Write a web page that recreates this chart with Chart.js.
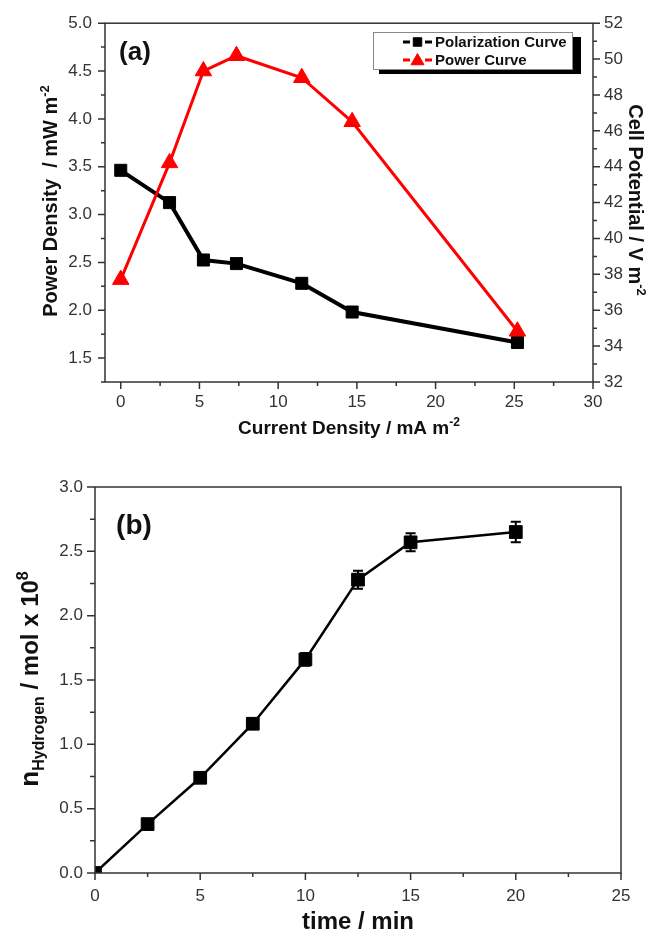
<!DOCTYPE html>
<html>
<head>
<meta charset="utf-8">
<script src="https://cdn.jsdelivr.net/npm/chart.js@4.4.1/dist/chart.umd.min.js"></script>
<style>
    html, body { margin: 0; padding: 0; background: #fff; }
    #wrap { position: relative; width: 654px; height: 932px; }
    canvas { position: absolute; left: 0; }
    #chartA { top: 0; }
    #chartB { top: 445px; }
</style>
</head>
<body>
<div id="wrap">
    <canvas id="chartA" width="654" height="445"></canvas>
    <canvas id="chartB" width="654" height="487"></canvas>
</div>
<script>
// ---- panel (a) data ----
const currentDensity = [0, 3.1, 5.25, 7.35, 11.5, 14.7, 25.2];   // mA m-2
const cellPotential = [43.8, 42.0, 38.8, 38.6, 37.5, 35.9, 34.2]; // V m-2 (right axis)
const powerDensity = [2.32, 3.54, 4.50, 4.66, 4.43, 3.97, 1.78];  // mW m-2 (left axis)
const xTicksA = [0, 5, 10, 15, 20, 25, 30];
const powerTicks = [1.5, 2.0, 2.5, 3.0, 3.5, 4.0, 4.5, 5.0];
const potentialTicks = [32, 34, 36, 38, 40, 42, 44, 46, 48, 50, 52];
const legendLabelsA = ['Polarization Curve', 'Power Curve'];

// ---- panel (b) data ----
const timeMin = [0, 2.5, 5, 7.5, 10, 12.5, 15, 20];
const nHydrogen = [0.0, 0.38, 0.74, 1.16, 1.66, 2.28, 2.57, 2.65];
const nHydrogenErr = [0, 0.02, 0.03, 0.04, 0.05, 0.07, 0.07, 0.08];
const xTicksB = [0, 5, 10, 15, 20, 25];
const yTicksB = [0, 0.5, 1.0, 1.5, 2.0, 2.5, 3.0];

const FONT = '"Liberation Sans", Arial, sans-serif';
const AXIS = '#333';
const tickFont = { family: FONT, size: 17 };

// minor ticks halfway between major ones
function midpoints(vals) {
    const out = [];
    for (let i = 0; i < vals.length - 1; i++) out.push((vals[i] + vals[i + 1]) / 2);
    return out;
}

function tickMarks(ctx, scale, values, len, side, area) {
    ctx.beginPath();
    values.forEach(v => {
        const p = scale.getPixelForValue(v);
        if (side === 'left') { ctx.moveTo(area.left, p); ctx.lineTo(area.left - len, p); }
        else if (side === 'right') { ctx.moveTo(area.right, p); ctx.lineTo(area.right + len, p); }
        else { ctx.moveTo(p, area.bottom); ctx.lineTo(p, area.bottom + len); }
    });
    ctx.stroke();
}

// text with sub/superscripts, (x, y) = centre of the baseline
function richText(ctx, parts, x, y, rot) {
    ctx.save();
    ctx.translate(x, y);
    ctx.rotate(rot);
    let total = 0;
    parts.forEach(p => {
        ctx.font = 'bold ' + p.size + 'px ' + FONT;
        p.w = ctx.measureText(p.t).width;
        total += p.w;
    });
    let cx = -total / 2;
    ctx.textAlign = 'left';
    ctx.textBaseline = 'alphabetic';
    ctx.fillStyle = '#111';
    parts.forEach(p => {
        ctx.font = 'bold ' + p.size + 'px ' + FONT;
        ctx.fillText(p.t, cx, p.dy || 0);
        cx += p.w;
    });
    ctx.restore();
}

function frame(ctx, area) {
    ctx.save();
    ctx.strokeStyle = AXIS;
    ctx.lineWidth = 1.5;
    ctx.strokeRect(area.left, area.top, area.right - area.left, area.bottom - area.top);
    ctx.restore();
}

const panelA = {
    id: 'panelA',
    afterDraw(chart) {
        const ctx = chart.ctx;
        const area = chart.chartArea;
        const s = chart.scales;
        frame(ctx, area);
        ctx.save();
        ctx.strokeStyle = AXIS;
        ctx.lineWidth = 1.5;
        tickMarks(ctx, s.x, xTicksA, 7, 'bottom', area);
        tickMarks(ctx, s.x, midpoints(xTicksA), 4, 'bottom', area);
        tickMarks(ctx, s.yLeft, powerTicks, 7, 'left', area);
        tickMarks(ctx, s.yLeft, [1.25].concat(midpoints(powerTicks)), 4, 'left', area);
        tickMarks(ctx, s.yRight, potentialTicks, 7, 'right', area);
        tickMarks(ctx, s.yRight, midpoints(potentialTicks), 4, 'right', area);
        ctx.restore();

        // axis titles
        richText(ctx, [{ t: 'Power Density  / mW m', size: 20 }, { t: '-2', size: 13, dy: -8 }], 57, 201, -Math.PI / 2);
        richText(ctx, [{ t: 'Cell Potential / V m', size: 20 }, { t: '-2', size: 13, dy: -8 }], 629, 200, Math.PI / 2);
        richText(ctx, [{ t: 'Current Density / mA m', size: 19 }, { t: '-2', size: 12, dy: -8 }], 349, 434, 0);
        richText(ctx, [{ t: '(a)', size: 26 }], 135, 60, 0);

        // legend with shadow box
        const ds = chart.data.datasets;
        ctx.save();
        ctx.fillStyle = '#000';
        ctx.fillRect(379, 37, 202, 37);
        ctx.fillStyle = '#fff';
        ctx.fillRect(373, 32, 200, 38);
        ctx.strokeStyle = '#888';
        ctx.lineWidth = 1;
        ctx.strokeRect(373.5, 32.5, 199, 37);
        [0, 1].forEach(i => {
            const d = ds[i];
            const y = 42 + i * 18;
            ctx.strokeStyle = d.borderColor;
            ctx.lineWidth = 3;
            ctx.beginPath();
            ctx.moveTo(403, y); ctx.lineTo(410, y);
            ctx.moveTo(425, y); ctx.lineTo(432, y);
            ctx.stroke();
            ctx.fillStyle = d.backgroundColor;
            ctx.lineWidth = 1;
            Chart.helpers.drawPoint(ctx, { pointStyle: d.pointStyle, radius: i === 0 ? 6 : 7.5, borderWidth: 1 }, 417.5, y + (i === 1 ? 1 : 0));
            ctx.fillStyle = '#111';
            ctx.font = 'bold 15px ' + FONT;
            ctx.textAlign = 'left';
            ctx.textBaseline = 'middle';
            ctx.fillText(legendLabelsA[i], 435, y + 1);
        });
        ctx.restore();
    }
};

new Chart(document.getElementById('chartA'), {
    type: 'line',
    data: {
        datasets: [{
            label: legendLabelsA[0],
            data: currentDensity.map((x, i) => ({ x, y: cellPotential[i] })),
            yAxisID: 'yRight',
            borderColor: '#000',
            backgroundColor: '#000',
            borderWidth: 4,
            pointStyle: 'rect',
            pointRadius: 8.5,
            pointBorderWidth: 1,
            order: 1
        }, {
            label: legendLabelsA[1],
            data: currentDensity.map((x, i) => ({ x, y: powerDensity[i] })),
            yAxisID: 'yLeft',
            borderColor: '#ff0000',
            backgroundColor: '#ff0000',
            borderWidth: 3,
            pointStyle: 'triangle',
            pointRadius: 9.5,
            pointBorderWidth: 1,
            order: 0
        }]
    },
    options: {
        responsive: false,
        animation: false,
        layout: { padding: { top: 21 } },
        plugins: { legend: { display: false }, tooltip: { enabled: false } },
        scales: {
            x: {
                type: 'linear', min: -1, max: 30,
                afterFit: sc => { sc.height = 63; },
                afterBuildTicks: sc => { sc.ticks = xTicksA.map(v => ({ value: v })); },
                grid: { display: false, drawTicks: false },
                border: { display: false },
                ticks: { font: tickFont, color: AXIS, padding: 10, maxRotation: 0, autoSkip: false }
            },
            yLeft: {
                position: 'left', min: 1.25, max: 5,
                afterFit: sc => { sc.width = 105; },
                afterBuildTicks: sc => { sc.ticks = powerTicks.map(v => ({ value: v })); },
                grid: { display: false, drawTicks: false },
                border: { display: false },
                ticks: { font: tickFont, color: AXIS, padding: 13, autoSkip: false, callback: v => v.toFixed(1) }
            },
            yRight: {
                position: 'right', min: 32, max: 52,
                afterFit: sc => { sc.width = 61; },
                afterBuildTicks: sc => { sc.ticks = potentialTicks.map(v => ({ value: v })); },
                grid: { display: false, drawTicks: false },
                border: { display: false },
                ticks: { font: tickFont, color: AXIS, padding: 11, autoSkip: false }
            }
        }
    },
    plugins: [panelA]
});

const panelB = {
    id: 'panelB',
    afterDatasetsDraw(chart) {
        // error bars
        const ctx = chart.ctx;
        const x = chart.scales.x, y = chart.scales.y;
        ctx.save();
        ctx.strokeStyle = '#000';
        ctx.lineWidth = 2;
        timeMin.forEach((t, i) => {
            const e = nHydrogenErr[i];
            if (!e) return;
            const px = x.getPixelForValue(t);
            const top = y.getPixelForValue(nHydrogen[i] + e);
            const bot = y.getPixelForValue(nHydrogen[i] - e);
            ctx.beginPath();
            ctx.moveTo(px, top); ctx.lineTo(px, bot);
            ctx.moveTo(px - 5, top); ctx.lineTo(px + 5, top);
            ctx.moveTo(px - 5, bot); ctx.lineTo(px + 5, bot);
            ctx.stroke();
        });
        ctx.restore();
    },
    afterDraw(chart) {
        const ctx = chart.ctx;
        const area = chart.chartArea;
        const s = chart.scales;
        frame(ctx, area);
        ctx.save();
        ctx.strokeStyle = AXIS;
        ctx.lineWidth = 1.5;
        tickMarks(ctx, s.x, xTicksB, 7, 'bottom', area);
        tickMarks(ctx, s.x, midpoints(xTicksB), 4, 'bottom', area);
        tickMarks(ctx, s.y, yTicksB, 8, 'left', area);
        tickMarks(ctx, s.y, midpoints(yTicksB), 5, 'left', area);
        ctx.restore();

        // positions are relative to this canvas, which starts at y = 445
        richText(ctx, [
            { t: 'n', size: 26 },
            { t: 'Hydrogen', size: 16, dy: 6 },
            { t: ' / mol x 10', size: 24 },
            { t: '8', size: 16, dy: -10 }
        ], 38, 234, -Math.PI / 2);
        richText(ctx, [{ t: 'time / min', size: 24 }], 358, 484, 0);
        richText(ctx, [{ t: '(b)', size: 28 }], 134, 89, 0);
    }
};

new Chart(document.getElementById('chartB'), {
    type: 'line',
    data: {
        datasets: [{
            label: 'nHydrogen',
            data: timeMin.map((x, i) => ({ x, y: nHydrogen[i] })),
            borderColor: '#000',
            backgroundColor: '#000',
            borderWidth: 2.5,
            pointStyle: 'rect',
            pointRadius: 9,
            pointBorderWidth: 1,
            clip: 0
        }]
    },
    options: {
        responsive: false,
        animation: false,
        layout: { padding: { top: 42, right: 33 } },
        plugins: { legend: { display: false }, tooltip: { enabled: false } },
        scales: {
            x: {
                type: 'linear', min: 0, max: 25,
                afterFit: sc => { sc.height = 59; },
                afterBuildTicks: sc => { sc.ticks = xTicksB.map(v => ({ value: v })); },
                grid: { display: false, drawTicks: false },
                border: { display: false },
                ticks: { font: tickFont, color: AXIS, padding: 13, maxRotation: 0, autoSkip: false }
            },
            y: {
                min: 0, max: 3,
                afterFit: sc => { sc.width = 95; },
                afterBuildTicks: sc => { sc.ticks = yTicksB.map(v => ({ value: v })); },
                grid: { display: false, drawTicks: false },
                border: { display: false },
                ticks: { font: tickFont, color: AXIS, padding: 12, autoSkip: false, callback: v => v.toFixed(1) }
            }
        }
    },
    plugins: [panelB]
});
</script>
</body>
</html>
